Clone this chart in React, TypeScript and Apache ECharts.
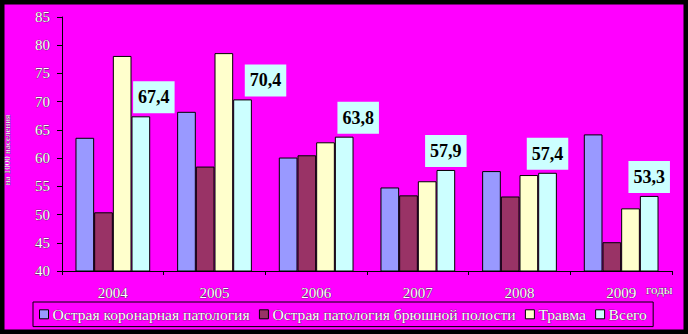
import React, { useEffect, useRef } from "react";
import * as echarts from "echarts";

const years = ["2004", "2005", "2006", "2007", "2008", "2009"];
const seriesNames = [
  "Острая коронарная патология",
  "Острая патология брюшной полости",
  "Травма",
  "Всего",
];
const coronary = [63.6, 68.2, 60.1, 54.8, 57.7, 64.2];
const abdominal = [50.4, 58.5, 60.5, 53.4, 53.2, 45.1];
const trauma = [78.1, 78.6, 62.8, 55.9, 57.0, 51.1];
const total = [67.4, 70.4, 63.8, 57.9, 57.4, 53.3];
const yTicks = { min: 40, max: 85, step: 5 };
const yTitle = "на 1000 населения";
const xUnit = "годы";
const totalLabelShift = [13, 23, 14, 0, 0, 0];

const colors = ["#9999ff", "#993366", "#ffffcc", "#ccffff"];
const FONT = "'Liberation Serif', 'Times New Roman', serif";

export default function App() {
  const ref = useRef<HTMLDivElement>(null);
  useEffect(() => {
    if (!ref.current) return;
    const chart = echarts.init(ref.current, null, { renderer: "svg" });
    const lightText = {
      color: "#ffffff",
      fontFamily: FONT,
      fontSize: 15,
      textBorderColor: "#333",
      textBorderWidth: 0.6,
    };
    const values = [coronary, abdominal, trauma, total];
    const series = values.map((arr, i) => ({
      type: "bar",
      name: seriesNames[i],
      barGap: "0%",
      barCategoryGap: "26.5%",
      itemStyle: { color: colors[i], borderColor: "#000", borderWidth: 1 },
      data:
        i === 3
          ? arr.map((v, k) => ({
              value: v,
              label: { offset: [totalLabelShift[k], 0] },
            }))
          : arr,
      label:
        i === 3
          ? {
              show: true,
              position: "top",
              distance: 3,
              formatter: (p: any) => String(p.value).replace(".", ","),
              backgroundColor: "#ccffff",
              padding: [7, 5, 7, 5],
              fontFamily: FONT,
              fontWeight: "bold",
              fontSize: 18,
              lineHeight: 18,
              color: "#000",
            }
          : { show: false },
    }));
    chart.setOption({
      animation: false,
      backgroundColor: "#ff00ff",
      grid: { left: 62, right: 16, top: 17, bottom: 63 },
      legend: {
        left: 33,
        top: 302,
        orient: "horizontal",
        borderColor: "#000",
        borderWidth: 1,
        padding: [4, 6],
        itemWidth: 9,
        itemHeight: 9,
        itemGap: 9,
        icon: "rect",
        itemStyle: { borderColor: "#000", borderWidth: 1 },
        textStyle: { ...lightText, fontSize: 15.6, lineHeight: 15, padding: [0, 0, 0, -1] },
        data: seriesNames,
      },
      xAxis: {
        type: "category",
        data: years,
        axisLine: { lineStyle: { color: "#000", width: 1 } },
        axisTick: { show: true, length: 4, lineStyle: { color: "#000" } },
        axisLabel: { ...lightText, margin: 14 },
      },
      yAxis: {
        type: "value",
        min: yTicks.min,
        max: yTicks.max,
        interval: yTicks.step,
        axisLine: { show: true, lineStyle: { color: "#000", width: 1 } },
        axisTick: { show: true, length: 5, lineStyle: { color: "#000" } },
        splitLine: { show: false },
        axisLabel: { ...lightText, margin: 12 },
      },
      graphic: [
        {
          type: "rect",
          silent: true,
          z: 100,
          shape: { x: 0, y: 0, width: 688, height: 334 },
          style: { fill: "none", stroke: "#000", lineWidth: 9 },
        },
        {
          type: "text",
          x: 646,
          y: 283,
          style: {
            text: xUnit,
            fontFamily: FONT,
            fontSize: 13,
            fill: "#ffffff",
            stroke: "#333",
            lineWidth: 0.6,
          },
        },
        {
          type: "text",
          x: 7,
          y: 150,
          rotation: Math.PI / 2,
          style: {
            text: yTitle,
            fontFamily: FONT,
            fontSize: 9,
            fill: "#ffffff",
            stroke: "#333",
            lineWidth: 0.4,
            align: "center",
            verticalAlign: "middle",
          },
        },
      ],
      series,
    });
    return () => chart.dispose();
  }, []);
  return (
    <div
      ref={ref}
      style={{ position: "fixed", left: 0, top: 0, width: 688, height: 334 }}
    />
  );
}
